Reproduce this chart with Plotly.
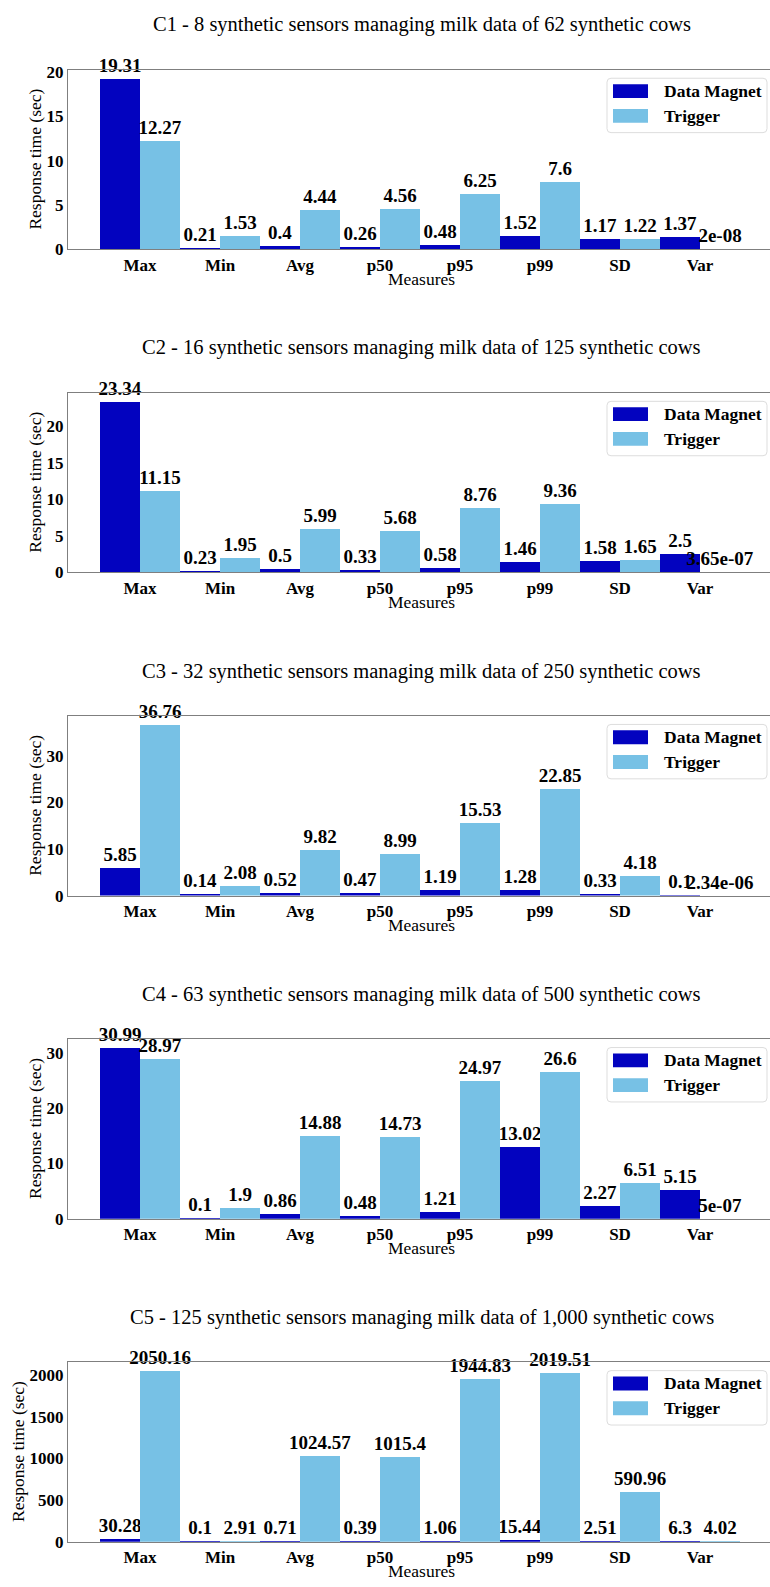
import plotly.graph_objects as go

measures = ["Max", "Min", "Avg", "p50", "p95", "p99", "SD", "Var"]

titles = [
    "C1 - 8 synthetic sensors managing milk data of 62 synthetic cows",
    "C2 - 16 synthetic sensors managing milk data of 125 synthetic cows",
    "C3 - 32 synthetic sensors managing milk data of 250 synthetic cows",
    "C4 - 63 synthetic sensors managing milk data of 500 synthetic cows",
    "C5 - 125 synthetic sensors managing milk data of 1,000 synthetic cows",
]

dm_c1 = [19.31, 0.21, 0.4, 0.26, 0.48, 1.52, 1.17, 1.37]
tr_c1 = [12.27, 1.53, 4.44, 4.56, 6.25, 7.6, 1.22, 2e-08]
dm_c2 = [23.34, 0.23, 0.5, 0.33, 0.58, 1.46, 1.58, 2.5]
tr_c2 = [11.15, 1.95, 5.99, 5.68, 8.76, 9.36, 1.65, 3.65e-07]
dm_c3 = [5.85, 0.14, 0.52, 0.47, 1.19, 1.28, 0.33, 0.1]
tr_c3 = [36.76, 2.08, 9.82, 8.99, 15.53, 22.85, 4.18, 2.34e-06]
dm_c4 = [30.99, 0.1, 0.86, 0.48, 1.21, 13.02, 2.27, 5.15]
tr_c4 = [28.97, 1.9, 14.88, 14.73, 24.97, 26.6, 6.51, 5e-07]
dm_c5 = [30.28, 0.1, 0.71, 0.39, 1.06, 15.44, 2.51, 6.3]
tr_c5 = [2050.16, 2.91, 1024.57, 1015.4, 1944.83, 2019.51, 590.96, 4.02]

dm_series = [dm_c1, dm_c2, dm_c3, dm_c4, dm_c5]
tr_series = [tr_c1, tr_c2, tr_c3, tr_c4, tr_c5]
ytick_steps = [5, 5, 10, 10, 500]

series_names = ["Data Magnet", "Trigger"]

W, H = 770, 1587
SERIF = "Liberation Serif"
DM_COLOR = "#0303BF"
TR_COLOR = "#77C1E5"
SPINE = "#7f7f7f"

PLOT_L = 68
PLOT_TOP0 = 63.5
PLOT_H = 181.5
STEP = 326.6
YTITLE_X = [35, 35, 35, 35, 18]


def fx(px):
    return px / W


def fy(py):
    return 1 - py / H


fig = go.Figure()
annotations = []
shapes = []

for k in range(5):
    ax = "" if k == 0 else str(k + 1)
    xname, yname = "x" + ax, "y" + ax
    top = PLOT_TOP0 + STEP * k
    bot = top + PLOT_H
    dm, tr = dm_series[k], tr_series[k]
    for vals, name, col in ((dm, series_names[0], DM_COLOR), (tr, series_names[1], TR_COLOR)):
        fig.add_trace(go.Bar(
            x=measures, y=vals, name=name, marker=dict(color=col, line=dict(width=0)),
            text=[str(v) for v in vals], textposition="outside", textangle=0,
            constraintext="none", cliponaxis=False,
            textfont=dict(family=SERIF, size=19, color="black", weight="bold"),
            xaxis=xname, yaxis=yname, showlegend=False,
        ))
    ymax = max(max(dm), max(tr)) * 1.05
    fig.layout["xaxis" + ax] = dict(
        domain=[fx(PLOT_L), 1], anchor=yname, range=[-0.9, 7.875],
        showline=True, linecolor=SPINE, linewidth=1.2, mirror=True,
        ticks="", showgrid=False,
        tickfont=dict(family=SERIF, size=17, color="black", weight="bold"),
        zeroline=False,
    )
    fig.layout["yaxis" + ax] = dict(
        domain=[fy(bot), fy(top)], anchor=xname, range=[0, ymax],
        showline=True, linecolor=SPINE, linewidth=1.2,
        ticks="", showgrid=False,
        dtick=ytick_steps[k], tick0=0,
        tickfont=dict(family=SERIF, size=17, color="black", weight="bold"),
        zeroline=False,
    )
    # panel title
    annotations.append(dict(
        text=titles[k], x=fx(422), y=fy(18 + STEP * k), xref="paper", yref="paper",
        xanchor="center", yanchor="middle", showarrow=False,
        font=dict(family=SERIF, size=20.5, color="black"),
    ))
    # x axis title
    annotations.append(dict(
        text="Measures", x=fx(421), y=fy(bot + 30), xref="paper", yref="paper",
        xanchor="center", yanchor="middle", showarrow=False,
        font=dict(family=SERIF, size=17.5, color="black"),
    ))
    # y axis title
    annotations.append(dict(
        text="Response time (sec)", x=fx(YTITLE_X[k]), y=fy((top + bot) / 2), xref="paper", yref="paper",
        xanchor="center", yanchor="middle", showarrow=False, textangle=-90,
        font=dict(family=SERIF, size=17.5, color="black"),
    ))
    # legend box (rounded)
    lx0, lx1 = 607, 767
    ly0, ly1 = top + 8.5, top + 63.5
    r = 4
    path = (
        f"M {fx(lx0 + r)},{fy(ly0)} L {fx(lx1 - r)},{fy(ly0)} "
        f"Q {fx(lx1)},{fy(ly0)} {fx(lx1)},{fy(ly0 + r)} "
        f"L {fx(lx1)},{fy(ly1 - r)} Q {fx(lx1)},{fy(ly1)} {fx(lx1 - r)},{fy(ly1)} "
        f"L {fx(lx0 + r)},{fy(ly1)} Q {fx(lx0)},{fy(ly1)} {fx(lx0)},{fy(ly1 - r)} "
        f"L {fx(lx0)},{fy(ly0 + r)} Q {fx(lx0)},{fy(ly0)} {fx(lx0 + r)},{fy(ly0)} Z"
    )
    shapes.append(dict(type="path", path=path, xref="paper", yref="paper",
                       line=dict(color="#dddddd", width=1), fillcolor="rgba(255,255,255,0.8)"))
    for i, (name, col) in enumerate(zip(series_names, (DM_COLOR, TR_COLOR))):
        cy = top + 21.5 + 25 * i
        shapes.append(dict(type="rect", xref="paper", yref="paper",
                           x0=fx(613), x1=fx(648), y0=fy(cy - 7), y1=fy(cy + 7),
                           fillcolor=col, line=dict(width=0)))
        annotations.append(dict(
            text=name, x=fx(662), y=fy(cy), xref="paper", yref="paper",
            xanchor="left", yanchor="middle", showarrow=False,
            font=dict(family=SERIF, size=17.5, color="black", weight="bold"),
        ))

fig.update_layout(
    width=W, height=H, margin=dict(l=0, r=0, t=0, b=0),
    paper_bgcolor="white", plot_bgcolor="white",
    barmode="group", bargap=0, bargroupgap=0,
    annotations=annotations, shapes=shapes, showlegend=False,
)

fig.write_html("out.html")
